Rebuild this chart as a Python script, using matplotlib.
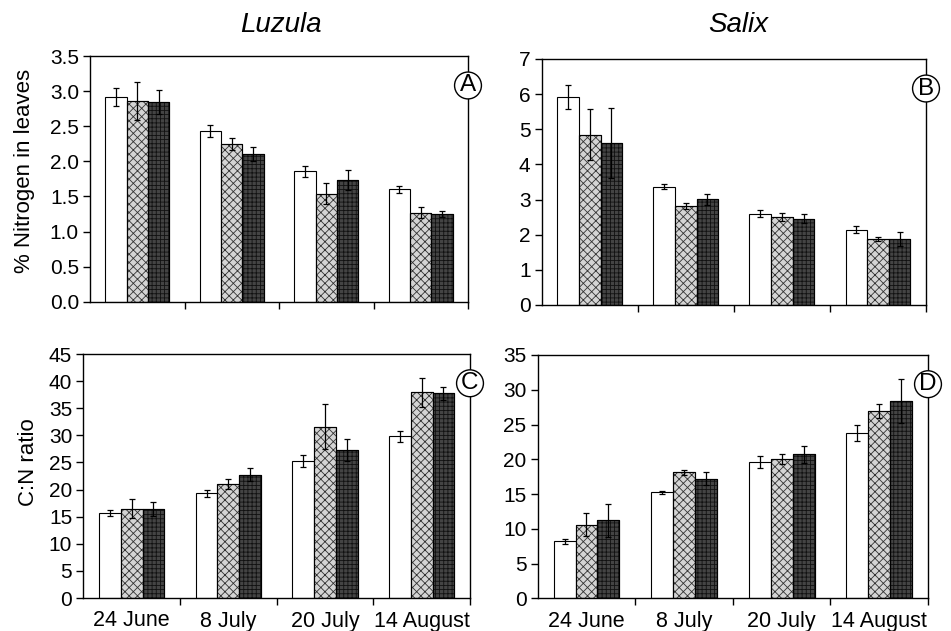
import matplotlib
matplotlib.use("Agg")
import matplotlib.pyplot as plt
import numpy as np

plt.rcParams['font.family'] = ['Liberation Sans', 'DejaVu Sans']
plt.rcParams['hatch.linewidth'] = 0.6

dates = ["24 June", "8 July", "20 July", "14 August"]

# Panel A: Luzula % N
A_white = [2.92, 2.43, 1.86, 1.60]
A_white_err = [0.13, 0.08, 0.08, 0.05]
A_cross = [2.86, 2.24, 1.54, 1.27]
A_cross_err = [0.27, 0.085, 0.15, 0.08]
A_dark = [2.84, 2.10, 1.73, 1.25]
A_dark_err = [0.17, 0.10, 0.14, 0.04]

# Panel B: Salix % N
B_white = [5.92, 3.37, 2.60, 2.14]
B_white_err = [0.33, 0.07, 0.10, 0.10]
B_cross = [4.85, 2.82, 2.50, 1.87]
B_cross_err = [0.72, 0.08, 0.11, 0.06]
B_dark = [4.60, 3.01, 2.46, 1.88]
B_dark_err = [1.00, 0.16, 0.14, 0.20]

# Panel C: Luzula C:N
C_white = [15.65, 19.3, 25.3, 29.8]
C_white_err = [0.6, 0.6, 1.1, 1.0]
C_cross = [16.5, 21.0, 31.6, 37.9]
C_cross_err = [1.7, 0.9, 4.1, 2.7]
C_dark = [16.4, 22.7, 27.3, 37.8]
C_dark_err = [1.3, 1.2, 2.1, 1.2]

# Panel D: Salix C:N
D_white = [8.2, 15.25, 19.6, 23.8]
D_white_err = [0.4, 0.2, 0.8, 1.2]
D_cross = [10.6, 18.1, 20.0, 26.9]
D_cross_err = [1.7, 0.4, 0.7, 1.0]
D_dark = [11.2, 17.2, 20.7, 28.4]
D_dark_err = [2.4, 0.9, 1.2, 3.2]

W, H = 951, 631
fig = plt.figure(figsize=(W / 100, H / 100), dpi=100)

def rect(l, r, t, b):
    return [l / W, 1 - b / H, (r - l) / W, (b - t) / H]

panels = [
    dict(pos=rect(90, 468, 56, 301.7), data=(A_white, A_white_err, A_cross, A_cross_err, A_dark, A_dark_err),
         ylim=(0, 3.5), yticks=np.arange(0, 3.51, 0.5), fmt="{:.1f}", letter="A", xlabels=False),
    dict(pos=rect(541.7, 926, 59, 305), data=(B_white, B_white_err, B_cross, B_cross_err, B_dark, B_dark_err),
         ylim=(0, 7), yticks=np.arange(0, 8, 1), fmt="{:.0f}", letter="B", xlabels=False),
    dict(pos=rect(83.3, 470, 354, 598), data=(C_white, C_white_err, C_cross, C_cross_err, C_dark, C_dark_err),
         ylim=(0, 45), yticks=np.arange(0, 46, 5), fmt="{:.0f}", letter="C", xlabels=True),
    dict(pos=rect(537.7, 928, 355, 598.3), data=(D_white, D_white_err, D_cross, D_cross_err, D_dark, D_dark_err),
         ylim=(0, 35), yticks=np.arange(0, 36, 5), fmt="{:.0f}", letter="D", xlabels=True),
]

x = np.arange(len(dates))
bw = 0.225
styles = [
    dict(facecolor="white", edgecolor="black", hatch=None),
    dict(facecolor="#d4d4d4", edgecolor="#333333", hatch="xxxx"),
    dict(facecolor="#444444", edgecolor="#111111", hatch="++++"),
]

for p in panels:
    ax = fig.add_axes(p["pos"])
    w, we, c, ce, d, de = p["data"]
    for k, (vals, errs) in enumerate([(w, we), (c, ce), (d, de)]):
        st = styles[k]
        bars = ax.bar(x + (k - 1) * bw, vals, bw, facecolor=st["facecolor"],
                      edgecolor=st["edgecolor"], hatch=st["hatch"], linewidth=0.8, zorder=2)
        if k > 0:
            for b in bars:
                ax.add_patch(plt.Rectangle(b.get_xy(), b.get_width(), b.get_height(),
                                           fill=False, edgecolor="black", linewidth=0.8, zorder=3))
        ax.errorbar(x + (k - 1) * bw, vals, yerr=errs, fmt="none", ecolor="black",
                    elinewidth=0.9, capsize=2.5, capthick=0.9, zorder=4)
    ax.set_xlim(-0.5, 3.5)
    ax.set_ylim(*p["ylim"])
    ax.set_yticks(p["yticks"])
    ax.set_yticklabels([p["fmt"].format(v) for v in p["yticks"]], fontsize=15)
    ax.set_xticks(np.arange(0.5, 3.6, 1.0))
    ax.set_xticklabels([])
    ax.tick_params(axis="x", which="major", length=5, width=1, direction="out")
    ax.tick_params(axis="y", length=5, width=1, direction="out", pad=3)
    if p["xlabels"]:
        ax.set_xticks(x, minor=True)
        ax.set_xticklabels(dates, minor=True, fontsize=15.5)
        ax.tick_params(axis="x", which="minor", length=0, pad=9)
    for s in ax.spines.values():
        s.set_linewidth(1.0)
        s.set_color("black")
    ax.text(1.0, 0.88, p["letter"], transform=ax.transAxes, ha="center", va="center",
            fontsize=17.5, zorder=10,
            bbox=dict(boxstyle="circle,pad=0.1", facecolor="white", edgecolor="black", linewidth=1.0),
            clip_on=False)

fig.text(281 / W, 1 - 25 / H, "Luzula", ha="center", va="center", fontsize=20, style="italic")
fig.text(738 / W, 1 - 25 / H, "Salix", ha="center", va="center", fontsize=20, style="italic")
fig.text(25 / W, 1 - 171 / H, "% Nitrogen in leaves", ha="center", va="center", rotation=90, fontsize=16)
fig.text(29 / W, 1 - 462 / H, "C:N ratio", ha="center", va="center", rotation=90, fontsize=16)

fig.savefig("out.png", dpi=100)
